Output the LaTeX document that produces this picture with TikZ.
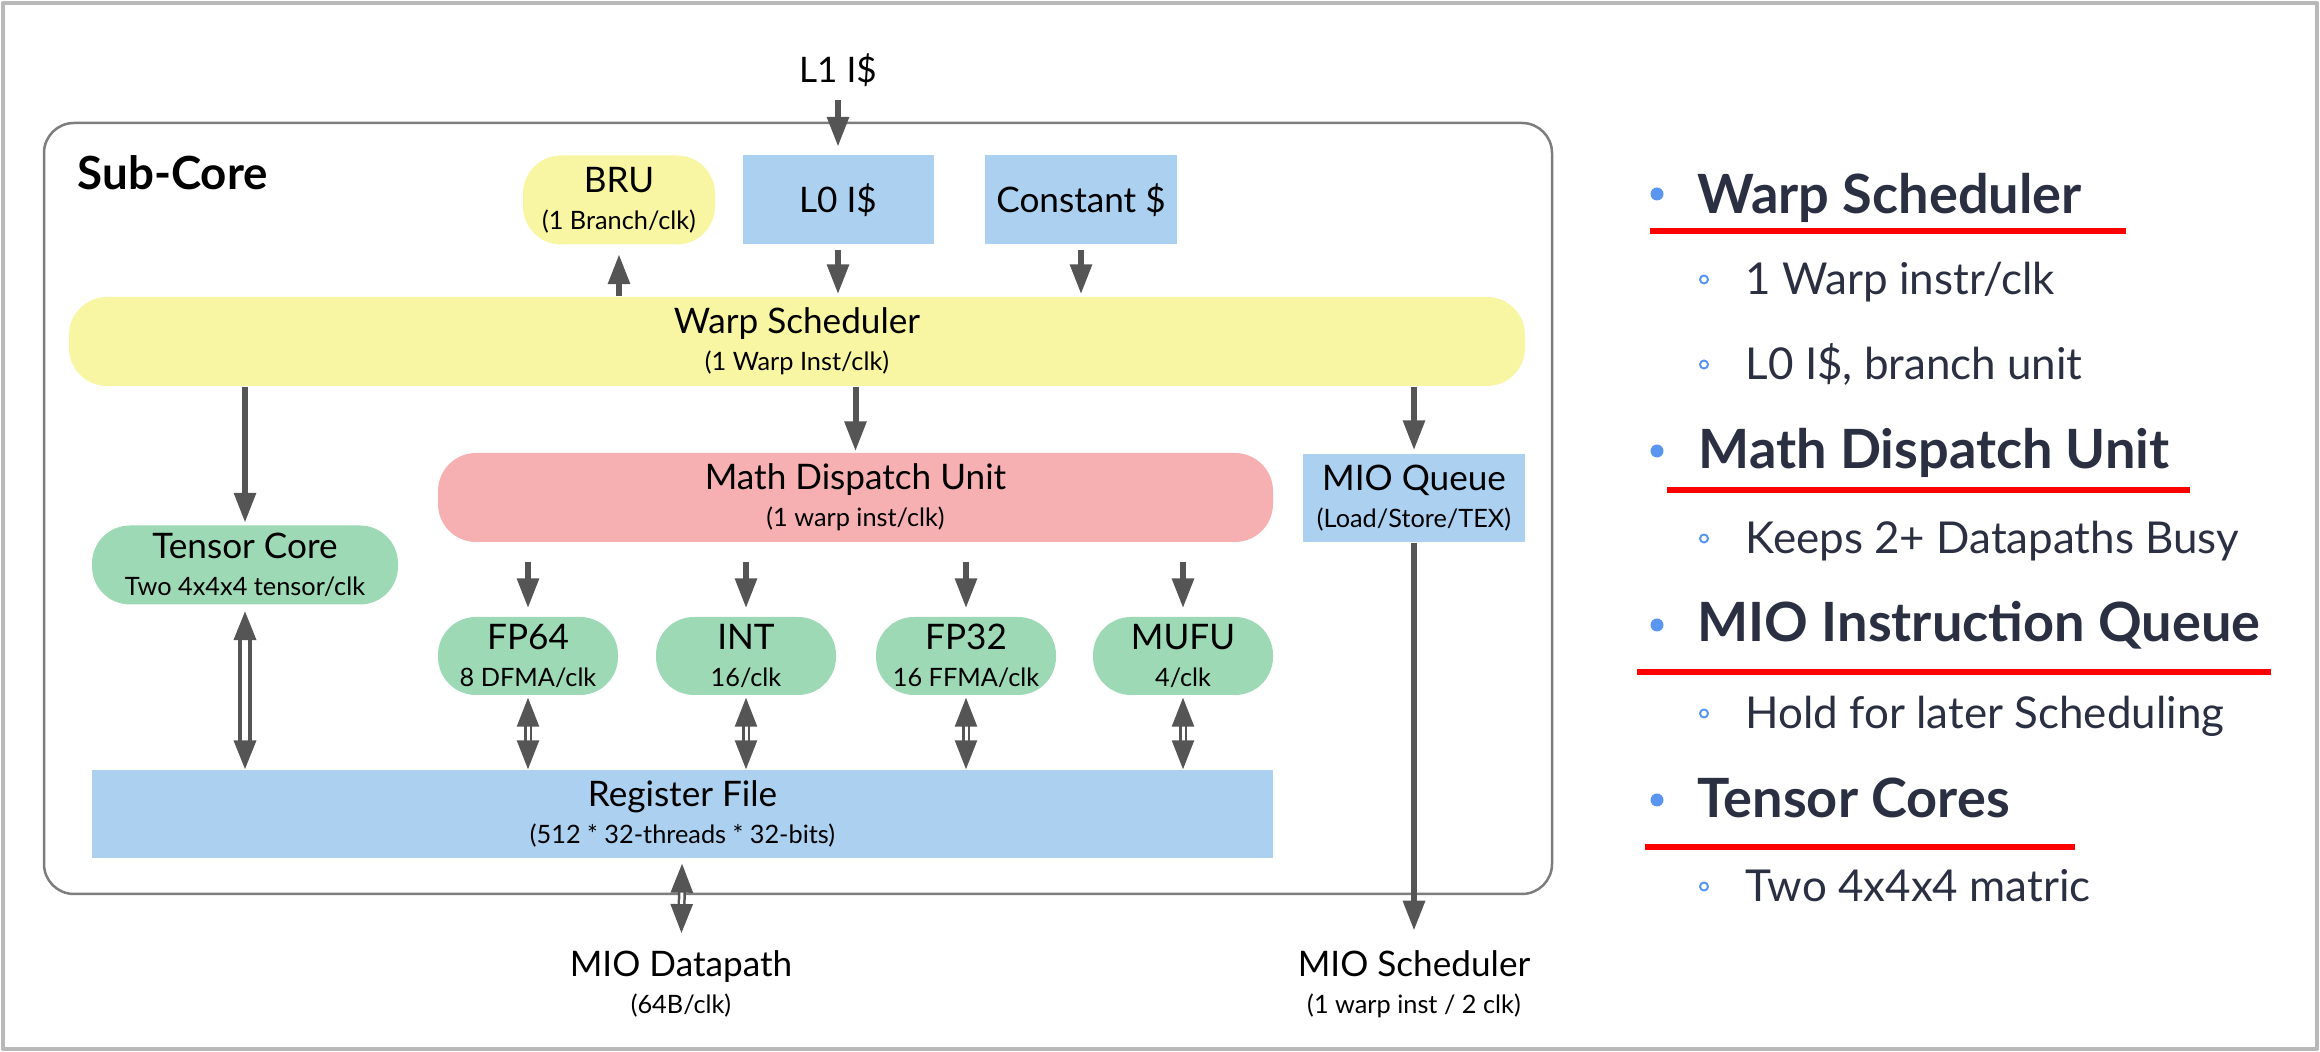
\documentclass[tikz,border=0pt]{standalone}
\usepackage{fontspec}
\setmainfont{Lato}
\usetikzlibrary{arrows.meta}

\definecolor{yellowfill}{RGB}{248,246,162}
\definecolor{bluefill}{RGB}{171,208,240}
\definecolor{pinkfill}{RGB}{247,176,178}
\definecolor{greenfill}{RGB}{156,217,180}
\definecolor{arrowgray}{RGB}{85,85,85}
\definecolor{framegray}{RGB}{125,125,125}
\definecolor{navy}{RGB}{42,47,66}
\definecolor{bulletblue}{RGB}{90,150,240}
\definecolor{ulinered}{RGB}{255,0,0}

\newcommand{\smallline}[1]{{\fontsize{7.2}{8}\selectfont #1}}

\begin{document}
\begin{tikzpicture}[line join=round, font=\fontsize{10}{10.5}\selectfont,
	unit/.style={inner sep=0pt, align=center, minimum height=0.89cm},
	pill/.style={unit, rounded corners=0.38cm},
	box/.style={unit, fill=bluefill},
	arr/.style={draw=arrowgray, line width=0.06cm, -{Triangle[length=0.30cm,width=0.21cm]}},
	dbl/.style={draw=arrowgray, line width=0.025cm, double=white, double distance=0.03cm,
		{Triangle[length=0.29cm,width=0.22cm]}-{Triangle[length=0.29cm,width=0.22cm]}},
	uline/.style={draw=ulinered, line width=0.065cm},
	head/.style={anchor=base west, inner sep=0pt, text=navy, font=\fontsize{15.4}{18}\selectfont\bfseries},
	item/.style={anchor=base west, inner sep=0pt, text=navy, font=\fontsize{12.5}{15}\selectfont}]
	\useasboundingbox (0,0) rectangle (23.2,-10.52);
	\draw[gray!55, line width=0.04cm] (0.03,-0.03) rectangle (23.17,-10.49);

	% sub-core frame
	\draw[framegray, line width=0.025cm, rounded corners=0.3cm] (0.44,-1.23) rectangle (15.52,-8.94);
	\node[anchor=west, inner sep=0pt, font=\fontsize{13}{15}\selectfont\bfseries] (subcore) at (0.77,-1.73) {Sub-Core};

	% top row
	\node[inner sep=0pt] (l1) at (8.38,-0.70) {L1 I\$};
	\node[pill, fill=yellowfill, minimum width=1.92cm] (bru) at (6.19,-2.00) {BRU\\\smallline{(1 Branch/clk)}};
	\node[box, minimum width=1.91cm] (l0) at (8.38,-2.00) {L0 I\$};
	\node[box, minimum width=1.92cm] (const) at (10.81,-2.00) {Constant \$};

	\node[pill, fill=yellowfill, minimum width=14.56cm] (warp) at (7.97,-3.415) {Warp Scheduler\\\smallline{(1 Warp Inst/clk)}};

	% middle row
	\node[pill, fill=pinkfill, minimum width=8.35cm] (mdu) at (8.555,-4.975) {Math Dispatch Unit\\\smallline{(1 warp inst/clk)}};
	\node[box, minimum width=2.22cm, minimum height=0.88cm] (mioq) at (14.14,-4.98) {MIO Queue\\\smallline{(Load/Store/TEX)}};
	\node[pill, fill=greenfill, minimum width=3.06cm, minimum height=0.79cm] (tensor) at (2.45,-5.65) {Tensor Core\\\smallline{Two 4x4x4 tensor/clk}};

	\foreach \nm/\x/\ttl/\rate in {fp64/5.28/FP64/{8 DFMA/clk}, int/7.46/INT/{16/clk}, fp32/9.66/FP32/{16 FFMA/clk}, mufu/11.83/MUFU/{4/clk}} {
		\node[pill, fill=greenfill, minimum width=1.80cm, minimum height=0.78cm] (\nm) at (\x,-6.56) {\ttl\\\smallline{\rate}};
		\draw[arr, shorten <=0.19cm, shorten >=0.08cm] (mdu.south -| \nm) -- (\nm);
	}

	\node[box, minimum width=11.81cm, minimum height=0.88cm] (rf) at (6.825,-8.14) {Register File\\\smallline{(512 * 32-threads * 32-bits)}};

	% outside
	\node[inner sep=0pt, align=center] (miodp) at (6.81,-9.84) {MIO Datapath\\\smallline{(64B/clk)}};
	\node[inner sep=0pt, align=center] (miosch) at (14.14,-9.84) {MIO Scheduler\\\smallline{(1 warp inst / 2 clk)}};

	% connectors
	\draw[arr, shorten <=0.13cm, shorten >=0.08cm] (l1) -- (l0);
	\draw[arr, shorten >=0.09cm] (warp.north -| bru) -- (bru);
	\draw[arr, shorten <=0.05cm, shorten >=0.02cm] (l0) -- (l0 |- warp.north);
	\draw[arr, shorten <=0.05cm, shorten >=0.02cm] (const) -- (const |- warp.north);
	\draw[arr, shorten >=0.02cm] (warp.south -| tensor) -- (tensor);
	\draw[arr, shorten >=0.01cm] (warp.south -| mdu) -- (mdu);
	\draw[arr, shorten >=0.03cm] (warp.south -| mioq) -- (mioq);
	\draw[arr, shorten >=0.19cm] (mioq) -- (miosch);
	\draw[dbl, line width=0.04cm, double distance=0.06cm, shorten <=0.06cm] (tensor) -- (tensor |- rf.north);
	\foreach \nm in {fp64, int, fp32, mufu}
		\draw[dbl, shorten <=0.02cm] (\nm) -- (\nm |- rf.north);
	\draw[dbl, shorten <=0.05cm, shorten >=0.17cm] (rf) -- (miodp);

	% right side notes
	\node[head] (hws) at (16.97,-2.14) {Warp Scheduler};
	\node[head] (hmdu) at (16.98,-4.69) {Math Dispatch Unit};
	\node[head] (hmio) at (16.97,-6.42) {MIO Instruction Queue};
	\node[head] (htc) at (16.97,-8.18) {Tensor Cores};
	\foreach \y in {-1.94,-4.51,-6.25,-8.00}
		\fill[bulletblue] (16.57,\y) circle (0.065cm);
	\draw[uline] (16.50,-2.31) -- (21.26,-2.31);
	\draw[uline] (16.67,-4.90) -- (21.90,-4.90);
	\draw[uline] (16.37,-6.72) -- (22.71,-6.72);
	\draw[uline] (16.45,-8.47) -- (20.75,-8.47);

	\foreach \y/\txt in {-2.95/{1 Warp instr/clk}, -3.80/{L0 I\$, branch unit}, -5.54/{Keeps 2+ Datapaths Busy}, -7.29/{Hold for later Scheduling}, -9.02/{Two 4x4x4 matric}} {
		\node[item] at (17.45,\y) {\txt};
		\draw[bulletblue, line width=0.02cm] (17.04,\y+0.155) circle (0.04cm);
	}
\end{tikzpicture}
\end{document}
